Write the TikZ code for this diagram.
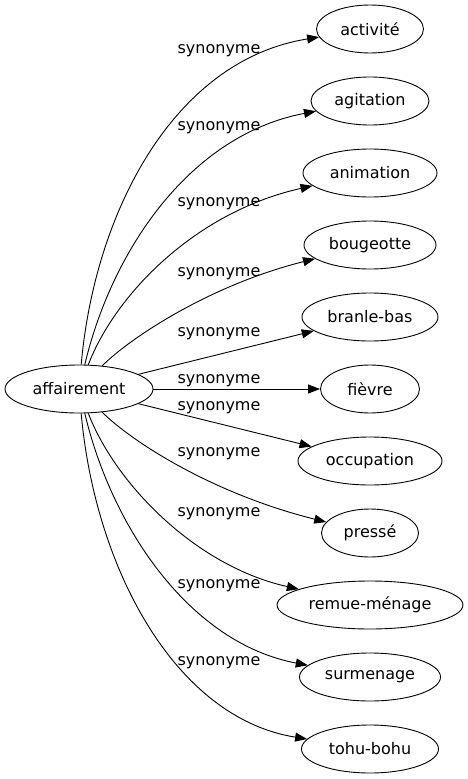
\documentclass[tikz,border=0pt]{standalone}
\usepackage{fontspec}
\setmainfont{DejaVu Sans}
\usetikzlibrary{arrows.meta, shapes.geometric}

\begin{document}
\begin{tikzpicture}[x = 1pt, y = -1pt, line width = 0.9pt,
		>={Triangle[length=12pt, width=9pt]},
		word/.style = {ellipse, draw, inner sep=0pt, minimum height=48pt, minimum width=#1, font=\fontsize{16}{19}\selectfont},
		rel/.style = {inner sep=0pt, anchor=base, font=\fontsize{16}{19}\selectfont}]
	\useasboundingbox (0, 0) rectangle (468, 779);
	% Nodes
	\node[word=148pt] (w) at (79, 389) {affairement};
	\node[word=107pt] (s1) at (370, 29) {activité};
	\node[word=118pt] (s2) at (370, 101) {agitation};
	\node[word=134pt] (s3) at (370, 173) {animation};
	\node[word=132pt] (s4) at (370, 245) {bougeotte};
	\node[word=136pt] (s5) at (370, 317) {branle-bas};
	\node[word=99pt] (s6) at (370, 389) {fièvre};
	\node[word=144pt] (s7) at (370, 461) {occupation};
	\node[word=97pt] (s8) at (370, 533) {pressé};
	\node[word=186pt] (s9) at (370, 605) {remue-ménage};
	\node[word=141pt] (s10) at (370, 677) {surmenage};
	\node[word=137pt] (s11) at (370, 749) {tohu-bohu};

	% Edges
	\draw[->] (w) .. controls (95, 210) and (175, 60) .. (s1);
	\draw[->] (w) .. controls (112, 250) and (190, 135) .. (s2);
	\draw[->] (w) .. controls (115, 295) and (195, 212) .. (s3);
	\draw[->] (w) .. controls (130, 338) and (210, 285) .. (s4);
	\draw[->] (w) -- (s5);
	\draw[->] (w) -- (s6);
	\draw[->] (w) -- (s7);
	\draw[->] (w) .. controls (130, 440) and (210, 493) .. (s8);
	\draw[->] (w) .. controls (115, 483) and (195, 566) .. (s9);
	\draw[->] (w) .. controls (112, 528) and (190, 643) .. (s10);
	\draw[->] (w) .. controls (95, 568) and (175, 718) .. (s11);

	% Labels
	\node[rel] (l1) at (219, 53) {synonyme};
	\node[rel] (l2) at (219, 130) {synonyme};
	\node[rel] (l3) at (219, 206.5) {synonyme};
	\node[rel] (l4) at (219, 276.5) {synonyme};
	\node[rel] (l5) at (219, 336.5) {synonyme};
	\node[rel] (l6) at (219, 383.3) {synonyme};
	\node[rel] (l7) at (219, 410) {synonyme};
	\node[rel] (l8) at (219, 456.5) {synonyme};
	\node[rel] (l9) at (219, 516.5) {synonyme};
	\node[rel] (l10) at (219, 588) {synonyme};
	\node[rel] (l11) at (219, 665) {synonyme};
\end{tikzpicture}
\end{document}
